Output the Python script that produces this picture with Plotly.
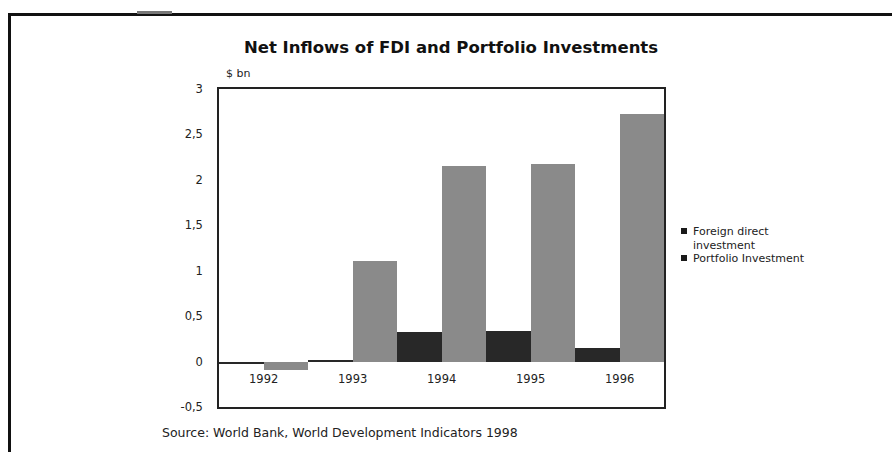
import plotly.graph_objects as go

years = ["1992", "1993", "1994", "1995", "1996"]
fdi = [-0.03, 0.01, 0.33, 0.34, 0.15]
portfolio = [-0.09, 1.11, 2.15, 2.18, 2.72]
series_names = ["Foreign direct<br>investment", "Portfolio Investment"]
ytick_vals = [-0.5, 0, 0.5, 1, 1.5, 2, 2.5, 3]
ytick_text = ["-0,5", "0", "0,5", "1", "1,5", "2", "2,5", "3"]

W, H = 892, 452
L, R, T, B = 219, 228, 89, 45
PW, PH = W - L - R, H - T - B
font = "DejaVu Sans"
colors = ["#282828", "#8a8a8a"]


def px(x):
    return (x - L) / PW


def py(y):
    return (H - B - y) / PH


fig = go.Figure()
fig.add_trace(go.Bar(x=years, y=fdi, name=series_names[0], showlegend=False,
                     marker=dict(color=colors[0], line=dict(width=0))))
fig.add_trace(go.Bar(x=years, y=portfolio, name=series_names[1], showlegend=False,
                     marker=dict(color=colors[1], line=dict(width=0))))

for i, yr in enumerate(years):
    fig.add_annotation(x=i, y=-0.19, xref="x", yref="y", text=yr, showarrow=False,
                       font=dict(family=font, size=11.5, color="#222"))

fig.update_layout(
    width=W, height=H,
    margin=dict(l=L, r=R, t=T, b=B),
    paper_bgcolor="white", plot_bgcolor="white",
    barmode="group", bargap=0, bargroupgap=0,
    separators=",.",
    font=dict(family=font, size=11, color="#222"),
    title=dict(text="<b>Net Inflows of FDI and Portfolio Investments</b>",
               x=451 / W, xanchor="center", y=1 - 47 / H, yanchor="middle",
               font=dict(family=font, size=16.5, color="#111")),
    xaxis=dict(type="category", range=[-0.5, len(years) - 0.5], showticklabels=False,
               ticks="", showgrid=False, zeroline=False, showline=True, mirror=True,
               linecolor="#222", linewidth=1.5),
    yaxis=dict(range=[-0.5, 3], tickvals=ytick_vals, ticktext=ytick_text,
               showgrid=False, zeroline=False, ticks="", ticklabelstandoff=12,
               showline=True, mirror=True, linecolor="#222", linewidth=1.5,
               tickfont=dict(family=font, size=11.5, color="#222")),
)

fig.add_annotation(x=px(224), y=py(73), xref="paper", yref="paper", text="$ bn",
                   showarrow=False, xanchor="left", yanchor="middle",
                   font=dict(family=font, size=11, color="#222"))
fig.add_annotation(x=px(160), y=py(432), xref="paper", yref="paper",
                   text="Source: World Bank, World Development Indicators 1998",
                   showarrow=False, xanchor="left", yanchor="middle",
                   font=dict(family=font, size=12.5, color="#222"))

# manual legend
leg_y = [231, 258]
for name, yy in zip(series_names, leg_y):
    fig.add_shape(type="rect", xref="paper", yref="paper",
                  x0=px(681), x1=px(687), y0=py(yy + 3), y1=py(yy - 3),
                  fillcolor="#1a1a1a", line=dict(width=0))
    fig.add_annotation(x=px(692), y=py(yy - 7), xref="paper", yref="paper",
                       text=name, showarrow=False, xanchor="left", yanchor="top",
                       align="left", borderpad=0,
                       font=dict(family=font, size=11, color="#222"))

# page frame
frame = [
    (8, 892, 13, 16, "#111"),
    (8, 11, 13, 452, "#111"),
    (137, 172, 11, 14, "#777"),
]
for x0, x1, y0, y1, c in frame:
    fig.add_shape(type="rect", xref="paper", yref="paper",
                  x0=px(x0), x1=px(x1), y0=py(y1), y1=py(y0),
                  fillcolor=c, line=dict(width=0), layer="above")

fig.write_html("out.html")
